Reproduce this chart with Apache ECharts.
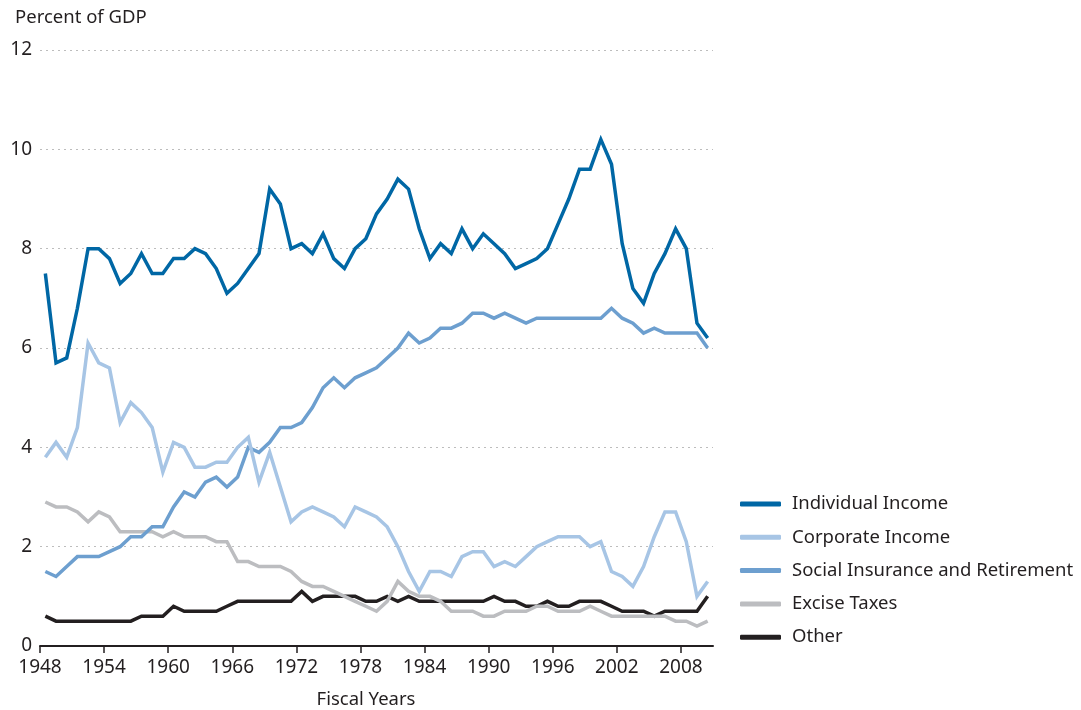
<!DOCTYPE html>
<html>
<head>
<meta charset="utf-8">
<title>Revenue by source, percent of GDP</title>
<script src="https://cdn.jsdelivr.net/npm/echarts@6/dist/echarts.min.js"></script>
<style>
  html, body { margin: 0; padding: 0; background: #fff; }
  #chart { width: 1081px; height: 710px; }
</style>
</head>
<body>
<div id="chart"></div>
<script>
// fiscal years 1948..2010
const years = []
for (let y = 1948; y <= 2010; y++) years.push(y)

const tickYears = [1948, 1954, 1960, 1966, 1972, 1978, 1984, 1990, 1996, 2002, 2008]

const individualIncome = [
  7.5, 5.7, 5.8, 6.8, 8.0, 8.0, 7.8, 7.3, 7.5, 7.9,
  7.5, 7.5, 7.8, 7.8, 8.0, 7.9, 7.6, 7.1, 7.3, 7.6,
  7.9, 9.2, 8.9, 8.0, 8.1, 7.9, 8.3, 7.8, 7.6, 8.0,
  8.2, 8.7, 9.0, 9.4, 9.2, 8.4, 7.8, 8.1, 7.9, 8.4,
  8.0, 8.3, 8.1, 7.9, 7.6, 7.7, 7.8, 8.0, 8.5, 9.0,
  9.6, 9.6, 10.2, 9.7, 8.1, 7.2, 6.9, 7.5, 7.9, 8.4,
  8.0, 6.5, 6.2
]
const corporateIncome = [
  3.8, 4.1, 3.8, 4.4, 6.1, 5.7, 5.6, 4.5, 4.9, 4.7,
  4.4, 3.5, 4.1, 4.0, 3.6, 3.6, 3.7, 3.7, 4.0, 4.2,
  3.3, 3.9, 3.2, 2.5, 2.7, 2.8, 2.7, 2.6, 2.4, 2.8,
  2.7, 2.6, 2.4, 2.0, 1.5, 1.1, 1.5, 1.5, 1.4, 1.8,
  1.9, 1.9, 1.6, 1.7, 1.6, 1.8, 2.0, 2.1, 2.2, 2.2,
  2.2, 2.0, 2.1, 1.5, 1.4, 1.2, 1.6, 2.2, 2.7, 2.7,
  2.1, 1.0, 1.3
]
const socialInsurance = [
  1.5, 1.4, 1.6, 1.8, 1.8, 1.8, 1.9, 2.0, 2.2, 2.2,
  2.4, 2.4, 2.8, 3.1, 3.0, 3.3, 3.4, 3.2, 3.4, 4.0,
  3.9, 4.1, 4.4, 4.4, 4.5, 4.8, 5.2, 5.4, 5.2, 5.4,
  5.5, 5.6, 5.8, 6.0, 6.3, 6.1, 6.2, 6.4, 6.4, 6.5,
  6.7, 6.7, 6.6, 6.7, 6.6, 6.5, 6.6, 6.6, 6.6, 6.6,
  6.6, 6.6, 6.6, 6.8, 6.6, 6.5, 6.3, 6.4, 6.3, 6.3,
  6.3, 6.3, 6.0
]
const exciseTaxes = [
  2.9, 2.8, 2.8, 2.7, 2.5, 2.7, 2.6, 2.3, 2.3, 2.3,
  2.3, 2.2, 2.3, 2.2, 2.2, 2.2, 2.1, 2.1, 1.7, 1.7,
  1.6, 1.6, 1.6, 1.5, 1.3, 1.2, 1.2, 1.1, 1.0, 0.9,
  0.8, 0.7, 0.9, 1.3, 1.1, 1.0, 1.0, 0.9, 0.7, 0.7,
  0.7, 0.6, 0.6, 0.7, 0.7, 0.7, 0.8, 0.8, 0.7, 0.7,
  0.7, 0.8, 0.7, 0.6, 0.6, 0.6, 0.6, 0.6, 0.6, 0.5,
  0.5, 0.4, 0.5
]
const other = [
  0.6, 0.5, 0.5, 0.5, 0.5, 0.5, 0.5, 0.5, 0.5, 0.6,
  0.6, 0.6, 0.8, 0.7, 0.7, 0.7, 0.7, 0.8, 0.9, 0.9,
  0.9, 0.9, 0.9, 0.9, 1.1, 0.9, 1.0, 1.0, 1.0, 1.0,
  0.9, 0.9, 1.0, 0.9, 1.0, 0.9, 0.9, 0.9, 0.9, 0.9,
  0.9, 0.9, 1.0, 0.9, 0.9, 0.8, 0.8, 0.9, 0.8, 0.8,
  0.9, 0.9, 0.9, 0.8, 0.7, 0.7, 0.7, 0.6, 0.7, 0.7,
  0.7, 0.7, 1.0
]

const seriesNames = ['Individual Income', 'Corporate Income', 'Social Insurance and Retirement', 'Excise Taxes', 'Other']
const seriesValues = [individualIncome, corporateIncome, socialInsurance, exciseTaxes, other]
const seriesColors = ['#0067a5', '#a7c5e5', '#6d9fcf', '#bcbdc0', '#231f20']

const textColor = '#231f20'
const fontFamily = '"Noto Sans", "DejaVu Sans", sans-serif'

// 每个财年画在年份区间的中间
const toPoints = (vals) => vals.map((v, i) => [years[i] + 0.5, v])

const chart = echarts.init(document.getElementById('chart'))

chart.setOption({
  animation: false,
  textStyle: { fontFamily: fontFamily, color: textColor },
  title: [
    {
      text: 'Percent of GDP',
      left: 10,
      top: 3,
      textStyle: { fontSize: 18.5, fontWeight: 'normal', color: textColor, fontFamily: fontFamily }
    },
    {
      text: 'Fiscal Years',
      left: 361,
      top: 685,
      textAlign: 'center',
      textStyle: { fontSize: 18.5, fontWeight: 'normal', color: textColor, fontFamily: fontFamily }
    }
  ],
  legend: {
    orient: 'vertical',
    left: 740,
    top: 494,
    padding: 0,
    itemWidth: 41,
    itemHeight: 5,
    itemGap: 13.3,
    icon: 'roundRect',
    data: seriesNames,
    textStyle: { fontSize: 18.5, color: textColor, fontFamily: fontFamily, lineHeight: 20, padding: [0, 0, 0, 6] }
  },
  grid: {
    left: 40,
    right: 368,
    top: 50,
    bottom: 64,
    containLabel: false
  },
  xAxis: {
    type: 'value',
    min: 1948,
    max: 2011,
    splitLine: { show: false },
    axisLine: { show: true, lineStyle: { color: textColor, width: 2 } },
    axisTick: { show: true, length: 7, customValues: tickYears, lineStyle: { color: textColor, width: 1.5 } },
    axisLabel: {
      customValues: tickYears,
      fontSize: 19,
      color: textColor,
      margin: 12,
      formatter: (v) => String(v)
    }
  },
  yAxis: {
    type: 'value',
    min: 0,
    max: 12,
    interval: 2,
    axisLine: { show: false },
    axisTick: { show: false },
    axisLabel: { fontSize: 19, color: textColor, margin: 8 },
    splitLine: { show: true, lineStyle: { color: '#bdbdbd', type: [2, 4], width: 1 } }
  },
  series: seriesNames.map((name, i) => ({
    name: name,
    type: 'line',
    data: toPoints(seriesValues[i]),
    symbol: 'none',
    smooth: false,
    color: seriesColors[i],
    lineStyle: { width: 3.5, color: seriesColors[i], join: 'miter' },
    z: 10 - i
  }))
})

window.addEventListener('resize', () => {
  chart.resize()
})
</script>
</body>
</html>
